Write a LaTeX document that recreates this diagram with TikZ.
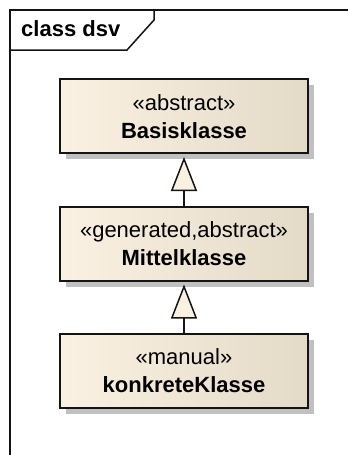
\documentclass[tikz,border=0pt]{standalone}
\usepackage{fontspec}
\setmainfont{Liberation Sans}
\usetikzlibrary{arrows.meta,shadows}
\definecolor{cream}{RGB}{251,241,226}
\definecolor{beige}{RGB}{227,218,200}
\definecolor{shadowgray}{RGB}{192,192,192}
\definecolor{ink}{RGB}{20,20,20}
\tikzset{
  classbox/.style={draw=ink, line width=2pt, left color=cream, right color=beige,
    minimum width=248pt, minimum height=74pt, inner sep=0pt,
    drop shadow={shadow xshift=6pt, shadow yshift=-6pt, fill=shadowgray, opacity=1}},
  stereo/.style={anchor=base, inner sep=0pt, font=\fontsize{22}{26}\selectfont},
  cname/.style={anchor=base, inner sep=0pt, font=\fontsize{22}{26}\selectfont\bfseries},
  gen/.style={draw=ink, line width=1.5pt, shorten >=3pt,
    -{Triangle[length=34pt, width=26pt, fill=cream]}},
  frameline/.style={draw=ink, line width=1.5pt},
}
\begin{document}
\begin{tikzpicture}[x=1pt, y=-1pt]
  \useasboundingbox (0,0) rectangle (348,455);

  % diagram frame with its name tab
  \draw[frameline] (10,455) -- (10,10) -- (348,10);
  \draw[frameline] (10,50) -- (127,50) -- (154,20) -- (154,10);
  \node[anchor=base west, inner sep=0pt, font=\fontsize{22}{26}\selectfont\bfseries]
    (title) at (21,36) {class dsv};

  % classes
  \node[classbox] (basis)  at (184,116)   {};
  \node[classbox] (mittel) at (184,243.5) {};
  \node[classbox] (konkret) at (184,370.5) {};

  \node[stereo] (basisS)  at ([yshift=-32pt]basis.north) {«abstract»};
  \node[cname]  (basisN)  at ([yshift=-60pt]basis.north) {Basisklasse};
  \node[stereo] (mittelS) at ([yshift=-32pt]mittel.north) {«generated,abstract»};
  \node[cname]  (mittelN) at ([yshift=-60pt]mittel.north) {Mittelklasse};
  \node[stereo] (konkretS) at ([yshift=-32pt]konkret.north) {«manual»};
  \node[cname]  (konkretN) at ([yshift=-60pt]konkret.north) {konkreteKlasse};

  % generalisations
  \draw[gen] (mittel.north) -- (basis.south);
  \draw[gen] (konkret.north) -- (mittel.south);
\end{tikzpicture}
\end{document}
